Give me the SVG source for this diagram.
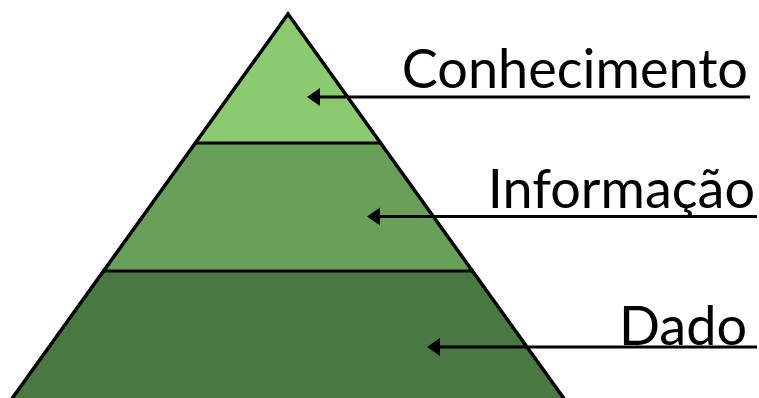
<svg xmlns="http://www.w3.org/2000/svg" width="759" height="398" viewBox="0 0 759 398">
<defs>
<style>
.band{stroke:none}
.edge{fill:none;stroke:#000;stroke-width:3.5;stroke-linejoin:miter}
.sep{stroke:#000;stroke-width:3}
.conn{stroke:#000;stroke-width:3;fill:none}
.head{fill:#000}
.lbl{font-family:Lato,"Open Sans",sans-serif;font-size:54px;fill:#000;text-anchor:end}
</style>
</defs>
<rect width="759" height="398" fill="#fff"/>
<g id="pyramid">
<g id="node-dado"><polygon class="band" points="102,271 474,271 565,398 11,398" fill="#4A7842"/></g>
<g id="node-informacao"><polygon class="band" points="194,143 382,143 474,271 102,271" fill="#68A05A"/></g>
<g id="node-conhecimento"><polygon class="band" points="288,13 382,143 194,143" fill="#8CCA72"/></g>
<line class="sep" x1="194" y1="143" x2="382" y2="143"/>
<line class="sep" x1="102" y1="271" x2="474" y2="271"/>
<polyline class="edge" points="11,400 288,14 565,400"/>
</g>
<g id="connectors">
<line class="conn" x1="750" y1="97" x2="318" y2="97"/>
<polygon class="head" points="307,97 320,88 320,106"/>
<line class="conn" x1="757" y1="216.5" x2="378" y2="216.5"/>
<polygon class="head" points="367,216.5 380,207.5 380,225.5"/>
<line class="conn" x1="757" y1="347" x2="438" y2="347"/>
<polygon class="head" points="427,347 440,338 440,356"/>
</g>
<g id="labels">
<text class="lbl" x="748" y="88">Conhecimento</text>
<text class="lbl" x="755" y="208">Informação</text>
<text class="lbl" x="747" y="345">Dado</text>
</g>
</svg>
